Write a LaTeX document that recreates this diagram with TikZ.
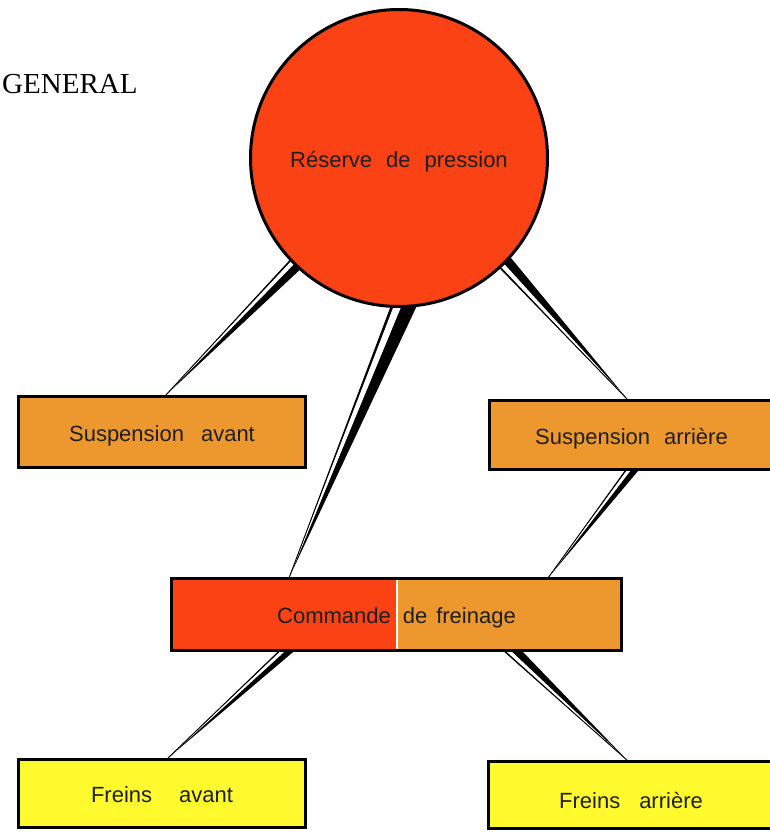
\documentclass[tikz,border=0pt]{standalone}
\usepackage{fontspec}
\setmainfont{Liberation Serif}
\newfontfamily\helv{Liberation Sans}
\usetikzlibrary{calc}
\definecolor{redc}{RGB}{250,66,20}
\definecolor{orangec}{RGB}{236,152,46}
\definecolor{yellowc}{RGB}{255,250,45}
\pgfdeclarelayer{bg}
\pgfsetlayers{bg,main}
\newcommand\wedgelink[3]{%
  \fill[black] (#1) -- (#2) -- (#3) -- cycle;
  \fill[white] (#1) -- ($(#2)!0.1!(#3)$) -- ($(#2)!0.4!(#3)$) -- cycle;
  \draw[line width=0.9pt] (#1) -- (#2);}
\begin{document}
\begin{tikzpicture}[x=1pt,y=-1pt,
  lbl/.style={font=\helv\fontsize{22}{26}\selectfont, text=black!88, text height=18pt, text depth=0pt, inner sep=0pt},
  box/.style={lbl, draw=black, line width=3pt, rectangle},
  orangebox/.style={box, fill=orangec},
  yellowbox/.style={box, fill=yellowc}]
\useasboundingbox (0,0) rectangle (770,832);

% title
\node[font=\fontsize{29}{34}\selectfont, anchor=base west, inner sep=0pt] (gen) at (2,94) {GENERAL};

% nodes
\node[lbl, circle, draw=black, line width=3pt, fill=redc, minimum size=297pt] (res) at (399,158)
  {Réserve\hspace{14pt}de\hspace{14pt}pression};
\node[orangebox, minimum width=287pt, minimum height=71pt] (susa) at (162,432)
  {Suspension\hspace{17pt}avant};
\node[orangebox, minimum width=284pt, minimum height=69pt] (susr) at (631.5,435)
  {Suspension\hspace{14pt}arrière};
\node[box, fill=orangec, minimum width=450pt, minimum height=72pt,
  path picture={
    \fill[redc] (path picture bounding box.north west) rectangle (path picture bounding box.south);
    \draw[white, line width=2pt] (path picture bounding box.north) -- (path picture bounding box.south);
  }] (cmd) at (396.5,614.5)
  {Commande\hspace{12pt}de\hspace{9pt}freinage};
\node[yellowbox, minimum width=287pt, minimum height=68pt] (frav) at (162,793.5)
  {Freins\hspace{27pt}avant\hspace{16pt}};
\node[yellowbox, minimum width=285pt, minimum height=67pt] (frar) at (631,795)
  {\raisebox{-4pt}{Freins\hspace{19pt}arrière}};

% wedge connector end points
\coordinate (w1a) at ($(res.center)+(-105,98)$);
\coordinate (w1b) at ($(res.center)+(-93,106)$);
\coordinate (w1p) at ($(susa.north)+(3,1)$);
\coordinate (w2a) at ($(res.center)+(-5.5,142)$);
\coordinate (w2b) at ($(res.center)+(20.6,142)$);
\coordinate (w2p) at ($(cmd.north)+(-107.5,1)$);
\coordinate (w3a) at ($(res.center)+(95.4,104.3)$);
\coordinate (w3b) at ($(res.center)+(110.3,97.9)$);
\coordinate (w3p) at ($(susr.north)+(-3.5,1)$);
\coordinate (w4a) at ($(susr.south)+(-2.9,-5)$);
\coordinate (w4b) at ($(susr.south)+(10.7,-5)$);
\coordinate (w4p) at ($(cmd.north)+(151.5,1)$);
\coordinate (w5a) at ($(cmd.south)+(-112.2,-6)$);
\coordinate (w5b) at ($(cmd.south)+(-96.3,-6)$);
\coordinate (w5p) at ($(frav.north)+(5,1)$);
\coordinate (w6a) at ($(cmd.south)+(101.7,-6)$);
\coordinate (w6b) at ($(cmd.south)+(120.7,-6)$);
\coordinate (w6p) at ($(frar.north)+(-3,1)$);

\begin{pgfonlayer}{bg}
  \wedgelink{w1p}{w1a}{w1b}
  \wedgelink{w2p}{w2a}{w2b}
  \wedgelink{w3p}{w3a}{w3b}
  \wedgelink{w4p}{w4a}{w4b}
  \wedgelink{w5p}{w5a}{w5b}
  \wedgelink{w6p}{w6a}{w6b}
\end{pgfonlayer}
\end{tikzpicture}
\end{document}
